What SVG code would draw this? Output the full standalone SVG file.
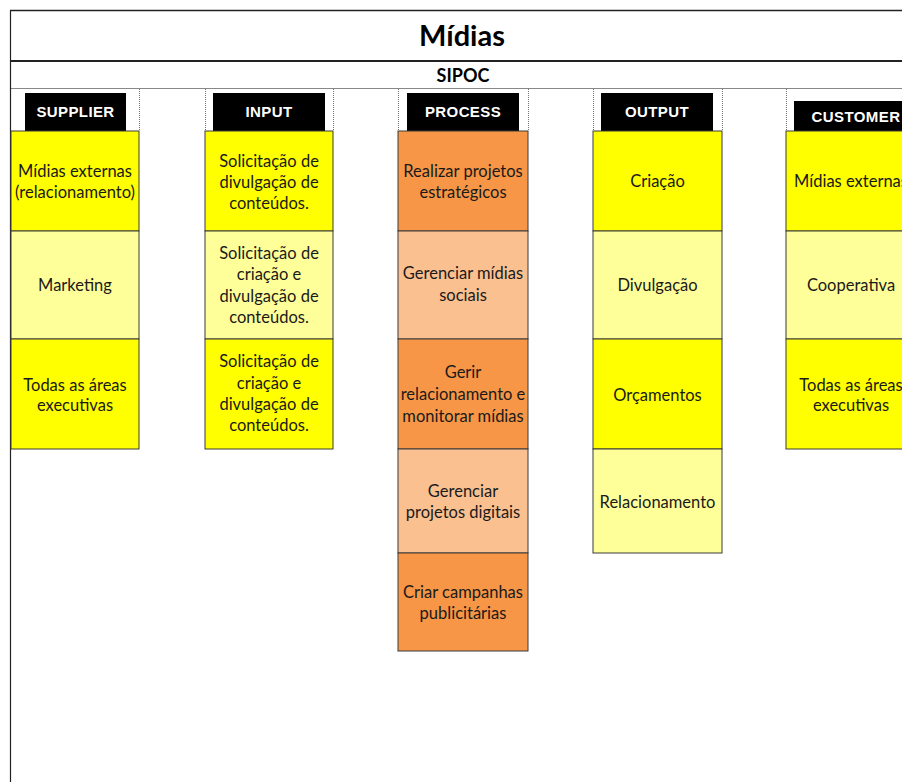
<svg xmlns="http://www.w3.org/2000/svg" width="902" height="782" viewBox="0 0 902 782">
<style>
.frame{stroke:#222;fill:none}
.dot{stroke:#777;stroke-width:1;stroke-dasharray:1 1;fill:none}
.hd{fill:#000}
.hdt{font-family:"Liberation Sans",Arial,sans-serif;font-weight:bold;font-size:15px;fill:#fff;text-anchor:middle;letter-spacing:0.4px}
.cell{stroke:#3a3a3a;stroke-width:1}
.y{fill:#FFFF00}
.ly{fill:#FFFF99}
.o{fill:#F79646}
.lo{fill:#FAC090}
.t{font-family:Lato,"Liberation Sans",sans-serif;font-size:16.5px;fill:#1a1a1a;text-anchor:middle}
.title{font-family:Lato,"Liberation Sans",sans-serif;font-weight:bold;font-size:29px;fill:#000;text-anchor:middle}
.sub{font-family:Lato,"Liberation Sans",sans-serif;font-weight:bold;font-size:18px;fill:#000;text-anchor:middle}
</style>
<rect width="902" height="782" fill="#fff"/>
<g id="frame">
<line class="frame" x1="10" y1="10.5" x2="902" y2="10.5" stroke-width="1.5"/>
<line class="frame" x1="10" y1="61" x2="902" y2="61" stroke-width="2"/>
<line x1="10" y1="88.5" x2="902" y2="88.5" stroke="#888" stroke-width="1"/>
<line class="frame" x1="10.5" y1="10" x2="10.5" y2="782" stroke-width="1.2"/>
<g class="dot">
<line x1="139.5" y1="89" x2="139.5" y2="131"/>
<line x1="205.5" y1="89" x2="205.5" y2="131"/>
<line x1="333.5" y1="89" x2="333.5" y2="131"/>
<line x1="398.5" y1="89" x2="398.5" y2="131"/>
<line x1="528.5" y1="89" x2="528.5" y2="131"/>
<line x1="593.5" y1="89" x2="593.5" y2="131"/>
<line x1="722.5" y1="89" x2="722.5" y2="131"/>
<line x1="786.5" y1="89" x2="786.5" y2="131"/>
</g>
</g>
<g id="title">
<text class="title" x="462" y="46">Mídias</text>
<text class="sub" x="463" y="82">SIPOC</text>
</g>
<g id="supplier">
<rect class="hd" x="25" y="93" width="101" height="38"/>
<text class="hdt" x="75.5" y="117">SUPPLIER</text>
<rect class="cell y" x="11" y="131" width="128" height="100"/>
<rect class="cell ly" x="11" y="231" width="128" height="108"/>
<rect class="cell y" x="11" y="339" width="128" height="110"/>
<text class="t" x="75" y="177">Mídias externas</text>
<text class="t" x="75" y="198">(relacionamento)</text>
<text class="t" x="75" y="291">Marketing</text>
<text class="t" x="75" y="391">Todas as áreas</text>
<text class="t" x="75" y="411">executivas</text>
</g>
<g id="input">
<rect class="hd" x="213" y="93" width="112" height="38"/>
<text class="hdt" x="269" y="117">INPUT</text>
<rect class="cell y" x="205" y="131" width="128" height="100"/>
<rect class="cell ly" x="205" y="231" width="128" height="108"/>
<rect class="cell y" x="205" y="339" width="128" height="110"/>
<text class="t" x="269" y="167">Solicitação de</text>
<text class="t" x="269" y="188">divulgação de</text>
<text class="t" x="269" y="209">conteúdos.</text>
<text class="t" x="269" y="259">Solicitação de</text>
<text class="t" x="269" y="280">criação e</text>
<text class="t" x="269" y="302">divulgação de</text>
<text class="t" x="269" y="323">conteúdos.</text>
<text class="t" x="269" y="367">Solicitação de</text>
<text class="t" x="269" y="389">criação e</text>
<text class="t" x="269" y="410">divulgação de</text>
<text class="t" x="269" y="431">conteúdos.</text>
</g>
<g id="process">
<rect class="hd" x="407" y="93" width="112" height="38"/>
<text class="hdt" x="463" y="117">PROCESS</text>
<rect class="cell o" x="398" y="131" width="130" height="100"/>
<rect class="cell lo" x="398" y="231" width="130" height="108"/>
<rect class="cell o" x="398" y="339" width="130" height="110"/>
<rect class="cell lo" x="398" y="449" width="130" height="104"/>
<rect class="cell o" x="398" y="553" width="130" height="98"/>
<text class="t" x="463" y="177">Realizar projetos</text>
<text class="t" x="463" y="198">estratégicos</text>
<text class="t" x="463" y="279">Gerenciar mídias</text>
<text class="t" x="463" y="301">sociais</text>
<text class="t" x="463" y="378">Gerir</text>
<text class="t" x="463" y="400">relacionamento e</text>
<text class="t" x="463" y="422">monitorar mídias</text>
<text class="t" x="463" y="497">Gerenciar</text>
<text class="t" x="463" y="518">projetos digitais</text>
<text class="t" x="463" y="598">Criar campanhas</text>
<text class="t" x="463" y="619">publicitárias</text>
</g>
<g id="output">
<rect class="hd" x="601" y="93" width="112" height="38"/>
<text class="hdt" x="657" y="117">OUTPUT</text>
<rect class="cell y" x="593" y="131" width="129" height="100"/>
<rect class="cell ly" x="593" y="231" width="129" height="108"/>
<rect class="cell y" x="593" y="339" width="129" height="110"/>
<rect class="cell ly" x="593" y="449" width="129" height="104"/>
<text class="t" x="657.5" y="187">Criação</text>
<text class="t" x="657.5" y="291">Divulgação</text>
<text class="t" x="657.5" y="401">Orçamentos</text>
<text class="t" x="657.5" y="508">Relacionamento</text>
</g>
<g id="customer">
<rect class="hd" x="794" y="101" width="120" height="30"/>
<text class="hdt" x="856" y="122">CUSTOMER</text>
<rect class="cell y" x="786" y="131" width="130" height="100"/>
<rect class="cell ly" x="786" y="231" width="130" height="108"/>
<rect class="cell y" x="786" y="339" width="130" height="110"/>
<text class="t" x="851" y="187">Mídias externas</text>
<text class="t" x="851" y="291">Cooperativa</text>
<text class="t" x="851" y="391">Todas as áreas</text>
<text class="t" x="851" y="411">executivas</text>
</g>
</svg>
